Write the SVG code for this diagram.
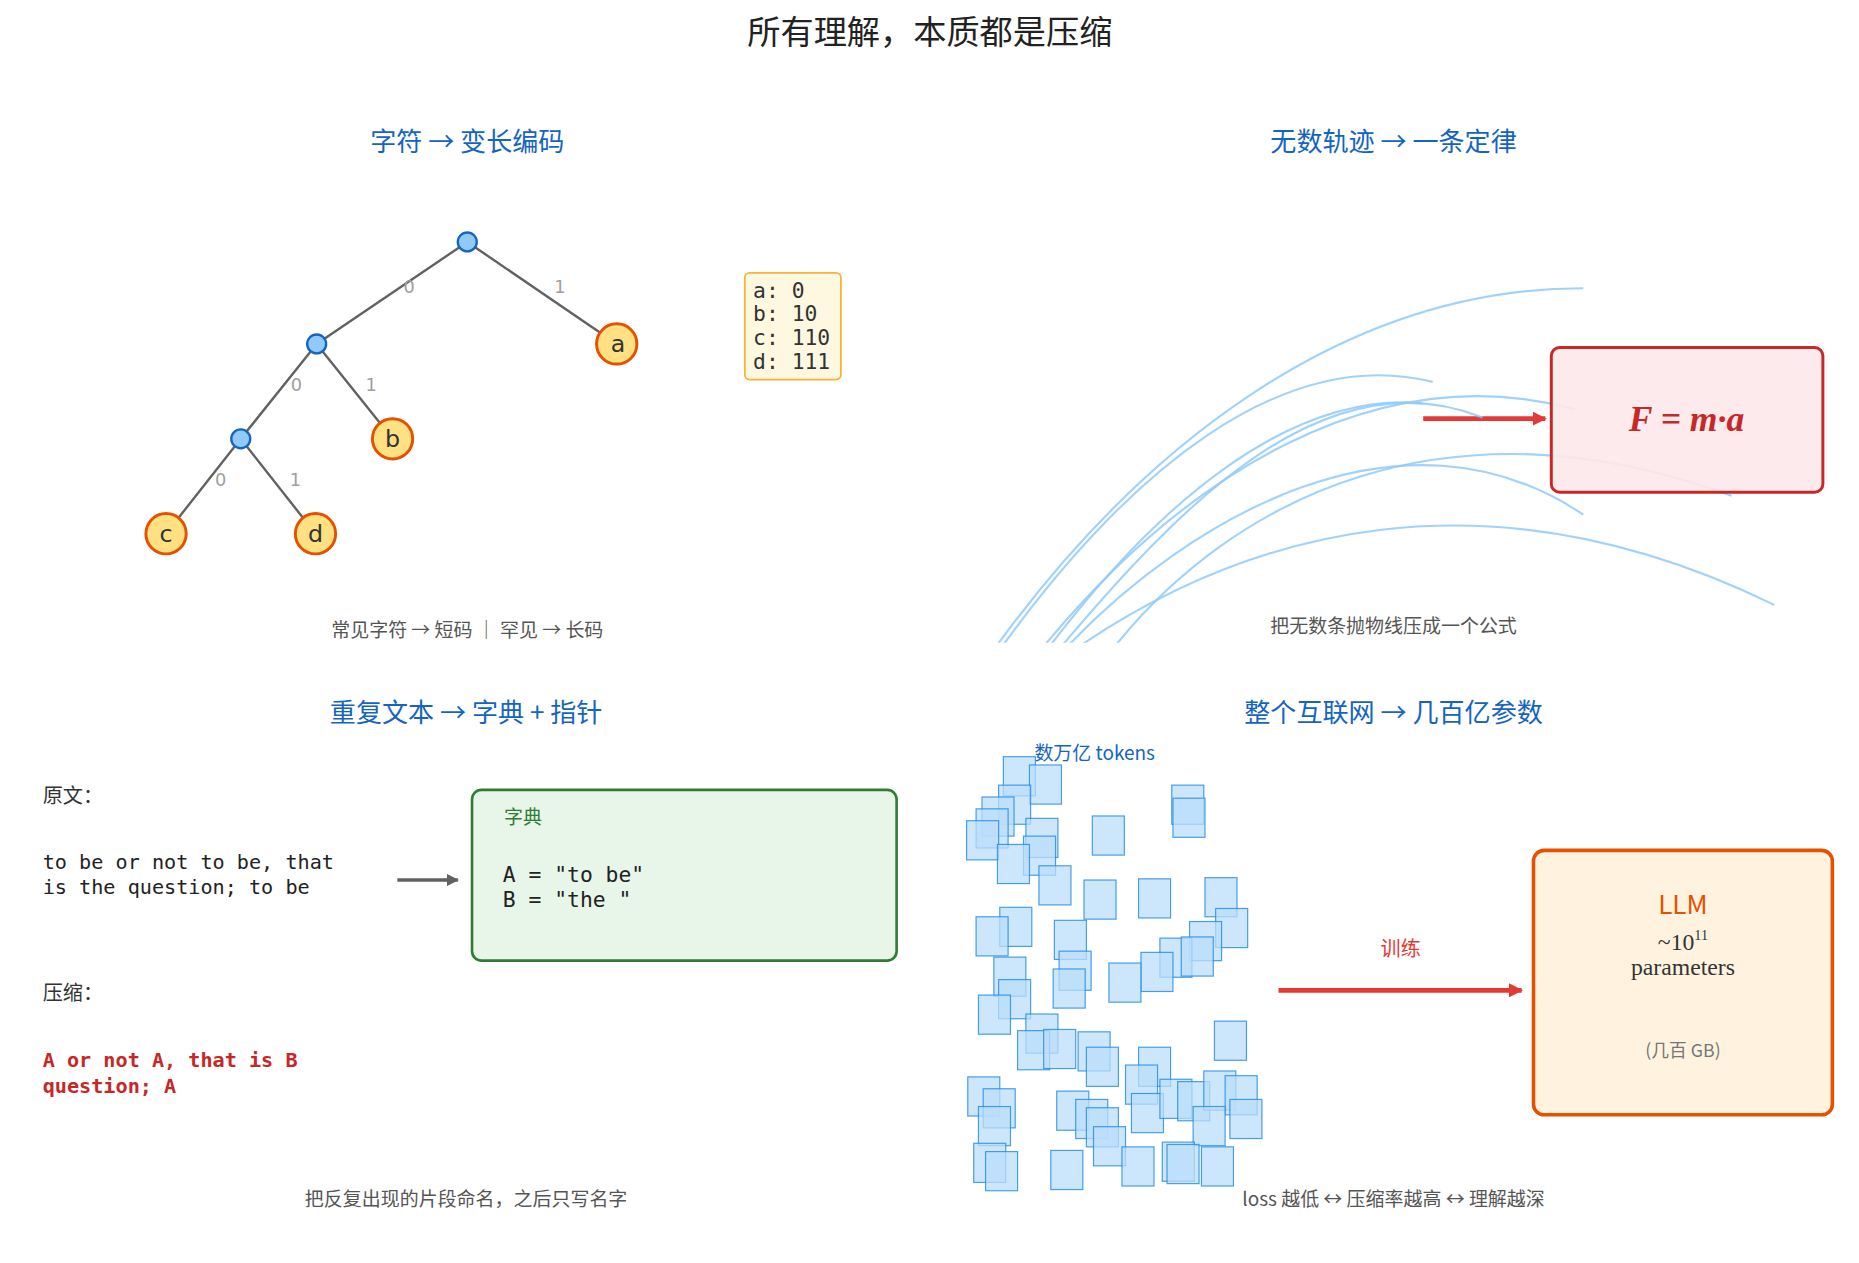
<svg xmlns="http://www.w3.org/2000/svg" width="1859" height="1263" viewBox="0 0 1859 1263">
<style>
.t{font-family:"Noto Sans CJK SC","Liberation Sans",sans-serif;}
.h{font-family:"Noto Sans CJK SC",sans-serif;font-size:22px;fill:#1565c0;text-anchor:middle}
.cap{font-family:"Noto Sans CJK SC",sans-serif;font-size:16px;fill:#555;text-anchor:middle}
.m{font-family:"DejaVu Sans Mono","Liberation Mono",monospace}
.edge{stroke:#616161;stroke-width:2;fill:none}
.el{font-family:"DejaVu Sans",sans-serif;font-size:15px;fill:#9e9e9e;text-anchor:middle}
.leaf{fill:#ffe082;stroke:#e65100;stroke-width:2.5}
.inner{fill:#90caf9;stroke:#1565c0;stroke-width:2}
.lt{font-family:"DejaVu Sans",sans-serif;font-size:20px;fill:#333;text-anchor:middle}
.traj{fill:none;stroke:#90caf9;stroke-width:1.8;opacity:0.85}
.tok rect{fill:#bbdefb;fill-opacity:0.75;stroke:#1e88e5;stroke-opacity:0.8;stroke-width:1;width:27px;height:33px}
</style>
<defs>
<marker id="ar" viewBox="0 0 10 10" refX="9" refY="5" markerWidth="3" markerHeight="3" orient="auto"><path d="M0,0L10,5L0,10z" fill="#e53935"/></marker>
<marker id="ag" viewBox="0 0 10 10" refX="9" refY="5" markerWidth="3.5" markerHeight="3.5" orient="auto"><path d="M0,0L10,5L0,10z" fill="#616161"/></marker>
<clipPath id="cp"><rect x="700" y="150" width="900" height="392"/></clipPath>
</defs>
<rect width="1859" height="1263" fill="#fff"/>
<g transform="scale(1.186)">
<text x="784" y="37" class="t" font-size="28" fill="#222" text-anchor="middle">所有理解，本质都是压缩</text>
<text class="h" x="394" y="127">字符 → 变长编码</text>
<text class="h" x="1175" y="127">无数轨迹 → 一条定律</text>
<text class="h" x="393" y="609">重复文本 → 字典 + 指针</text>
<text class="h" x="1175" y="609">整个互联网 → 几百亿参数</text>

<g id="connectors">
<path class="edge" d="M394,204L267,290M394,204L520,290M267,290L203,370M267,290L331,370M203,370L140,450M203,370L266,450"/>
<path d="M1200,353H1303" stroke="#e53935" stroke-width="4" marker-end="url(#ar)"/>
<path d="M335,742H386" stroke="#616161" stroke-width="3" marker-end="url(#ag)"/>
<path d="M1078,835H1283" stroke="#e53935" stroke-width="4" marker-end="url(#ar)"/>
</g>
<g id="edge-labels">
<text class="el" x="345" y="247">0</text><text class="el" x="472" y="247">1</text>
<text class="el" x="250" y="330">0</text><text class="el" x="313" y="330">1</text>
<text class="el" x="186" y="410">0</text><text class="el" x="249" y="410">1</text>
</g>
<g id="n-root"><circle class="inner" cx="394" cy="204" r="8"/></g>
<g id="n-1"><circle class="inner" cx="267" cy="290" r="8"/></g>
<g id="n-2"><circle class="inner" cx="203" cy="370" r="8"/></g>
<g id="n-a"><circle class="leaf" cx="520" cy="290" r="17"/><text class="lt" x="521" y="297">a</text></g>
<g id="n-b"><circle class="leaf" cx="331" cy="370" r="17"/><text class="lt" x="331" y="377">b</text></g>
<g id="n-c"><circle class="leaf" cx="140" cy="450" r="17"/><text class="lt" x="140" y="457">c</text></g>
<g id="n-d"><circle class="leaf" cx="266" cy="450" r="17"/><text class="lt" x="266" y="457">d</text></g>
<g id="codes"><rect x="628" y="230" width="81" height="90" rx="4" fill="#fff8e1" stroke="#f9b233" stroke-width="1.5"/>
<text class="m" font-size="18" fill="#333"><tspan x="635" y="251">a: 0</tspan><tspan x="635" y="271">b: 10</tspan><tspan x="635" y="291">c: 110</tspan><tspan x="635" y="311">d: 111</tspan></text></g>
<text class="cap" x="394" y="537">常见字符 → 短码 ｜ 罕见 → 长码</text>

<g id="trajectories" clip-path="url(#cp)">
<path class="traj" d="M840,545C960,380 1130,243 1335,243"/>
<path class="traj" d="M845,545C950,400 1080,290 1208,322"/>
<path class="traj" d="M880,545C1000,400 1160,300 1328,345"/>
<path class="traj" d="M895,545C1000,420 1120,300 1250,352"/>
<path class="traj" d="M900,545C1000,440 1180,330 1335,434"/>
<path class="traj" d="M940,545C1040,420 1220,330 1460,418"/>
<path class="traj" d="M910,545C1050,450 1250,390 1496,510"/>
<path class="traj" d="M885,545C980,420 1090,330 1200,340"/>
</g>
<g id="law"><rect x="1308" y="293" width="229" height="122" rx="7" fill="#fde8ea" fill-opacity="0.9" stroke="#c62828" stroke-width="2.5"/>
<text x="1422" y="363" font-family="Liberation Serif,serif" font-style="italic" font-weight="bold" font-size="30" fill="#c62828" text-anchor="middle">F = m·a</text></g>
<text class="cap" x="1175" y="534">把无数条抛物线压成一个公式</text>

<text class="t" x="36" y="677" font-size="17" fill="#333">原文：</text>
<text class="m" font-size="17" fill="#222"><tspan x="36" y="733">to be or not to be, that</tspan><tspan x="36" y="754">is the question; to be</tspan></text>
<g id="dict"><rect x="398" y="666" width="358" height="144" rx="8" fill="#e8f5e9" stroke="#2e7d32" stroke-width="2.2"/>
<text class="t" x="425" y="695" font-size="16" fill="#2e7d32">字典</text>
<text class="m" font-size="18" fill="#222"><tspan x="424" y="744">A = "to be"</tspan><tspan x="424" y="765">B = "the "</tspan></text></g>
<text class="t" x="36" y="843" font-size="17" fill="#333">压缩：</text>
<text class="m" font-size="17" font-weight="bold" fill="#c62828"><tspan x="36" y="900">A or not A, that is B</tspan><tspan x="36" y="922">question; A</tspan></text>
<text class="cap" x="393" y="1017">把反复出现的片段命名，之后只写名字</text>

<text class="t" x="923" y="641" font-size="16" fill="#1565c0" text-anchor="middle">数万亿 tokens</text>
<g id="tokens" class="tok">
<rect x="846" y="638"/><rect x="868" y="645"/><rect x="842" y="662"/><rect x="828" y="672"/><rect x="823" y="682"/><rect x="815" y="692"/><rect x="865" y="690"/><rect x="863" y="705"/><rect x="841" y="712"/><rect x="921" y="688"/><rect x="988" y="662"/><rect x="989" y="673"/><rect x="876" y="730"/><rect x="914" y="742"/><rect x="960" y="741"/><rect x="1016" y="740"/><rect x="1025" y="766"/><rect x="843" y="765"/><rect x="823" y="773"/><rect x="889" y="776"/><rect x="1003" y="777"/><rect x="978" y="791"/><rect x="996" y="790"/><rect x="962" y="803"/><rect x="935" y="812"/><rect x="893" y="802"/><rect x="888" y="817"/><rect x="838" y="807"/><rect x="842" y="826"/><rect x="825" y="839"/><rect x="865" y="855"/><rect x="858" y="869"/><rect x="880" y="868"/><rect x="909" y="870"/><rect x="916" y="883"/><rect x="960" y="883"/><rect x="1024" y="861"/><rect x="949" y="898"/><rect x="954" y="922"/><rect x="978" y="910"/><rect x="993" y="912"/><rect x="1015" y="903"/><rect x="1033" y="907"/><rect x="1037" y="927"/><rect x="1006" y="933"/><rect x="816" y="908"/><rect x="829" y="918"/><rect x="825" y="933"/><rect x="891" y="920"/><rect x="907" y="927"/><rect x="916" y="934"/><rect x="922" y="950"/><rect x="821" y="964"/><rect x="831" y="971"/><rect x="886" y="970"/><rect x="946" y="967"/><rect x="980" y="963"/><rect x="984" y="965"/><rect x="1013" y="967"/>
</g>
<text class="t" x="1181" y="806" font-size="17" fill="#e53935" text-anchor="middle">训练</text>
<g id="llm"><rect x="1293" y="717" width="252" height="223" rx="9" fill="#fff3e0" stroke="#e65100" stroke-width="3"/>
<text class="t" x="1419" y="771" font-size="22" fill="#e65100" text-anchor="middle">LLM</text>
<text x="1419" y="801" font-family="Liberation Serif,serif" font-size="20" fill="#333" text-anchor="middle">~10<tspan font-size="12" dy="-8">11</tspan></text>
<text x="1419" y="822" font-family="Liberation Serif,serif" font-size="20" fill="#333" text-anchor="middle">parameters</text>
<text class="t" x="1419" y="891" font-size="15" fill="#777" text-anchor="middle">(几百 GB)</text></g>
<text class="cap" x="1175" y="1017">loss 越低 ↔ 压缩率越高 ↔ 理解越深</text>
</g>
</svg>
